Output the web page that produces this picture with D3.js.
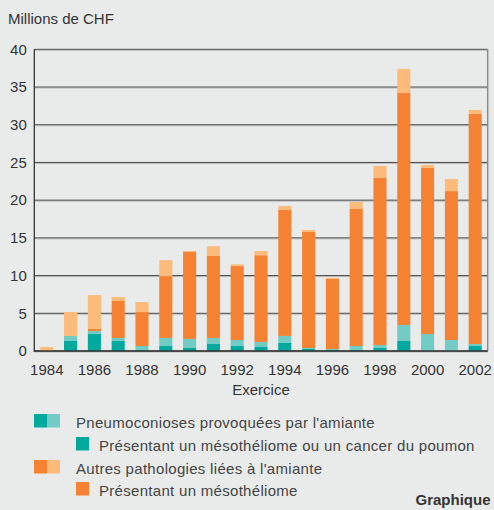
<!DOCTYPE html>
<html><head><meta charset="utf-8">
<script src="https://cdn.jsdelivr.net/npm/d3@7"></script>
<style>
html,body{margin:0;padding:0;background:#e9ebea;}
svg{display:block;font-family:"Liberation Sans",Arial,sans-serif;}
</style></head>
<body><svg id="c" width="494" height="510"></svg>
<script>
const years = [1984,1985,1986,1987,1988,1989,1990,1991,1992,1993,1994,1995,1996,1997,1998,1999,2000,2001,2002];
// Pneumoconioses: with mesothelioma or lung cancer (dark teal)
const pneumoMeso = [0,1.33,2.25,1.33,0.13,0.66,0.4,0.93,0.66,0.53,1.06,0.27,0.13,0.13,0.4,1.33,0,0,0.66];
// Pneumoconioses: other (light teal)
const pneumoOther = [0,0.67,0.4,0.4,0.53,1.07,1.2,0.8,0.8,0.67,0.94,0.13,0.14,0.53,0.4,2.12,2.25,1.46,0.27];
// Autres pathologies: with mesothelioma (dark orange)
const autresMeso = [0,0,0.27,4.9,4.5,8.2,11.53,10.87,9.8,11.5,16.7,15.38,9.28,18.17,22.15,30.75,22.02,19.74,30.5];
// Autres pathologies: other (light orange)
const autresOther = [0.53,3.17,4.5,0.53,1.33,2.12,0.13,1.3,0.23,0.56,0.53,0.27,0.13,0.93,1.59,3.2,0.4,1.6,0.53];
const yTicks = [0,5,10,15,20,25,30,35,40];
const xTickYears = [1984,1986,1988,1990,1992,1994,1996,1998,2000,2002];
const seriesKeys = ["pneumoMeso","pneumoOther","autresMeso","autresOther"];
const colors = {pneumoMeso:"#00a99d", pneumoOther:"#72cbc4", autresMeso:"#f58233", autresOther:"#fdbb7b"};

const svg = d3.select("#c");
const pLeft = 34.3, pRight = 487.7, pTop = 49.3, pBottom = 351;
const x = d3.scaleBand().domain(years).range([pLeft, pRight]).paddingInner(0.45).paddingOuter(0.25);
const y = d3.scaleLinear().domain([0,40]).range([pBottom, pTop]);

const rows = years.map((yr,i)=>({year:yr, pneumoMeso:pneumoMeso[i], pneumoOther:pneumoOther[i], autresMeso:autresMeso[i], autresOther:autresOther[i]}));
const stacked = d3.stack().keys(seriesKeys)(rows);

// gridlines
const g = svg.append("g");
yTicks.forEach(t=>{
  g.append("line").attr("x1",pLeft).attr("x2",pRight).attr("y1",y(t)+1).attr("y2",y(t)+1).attr("stroke","#b8b9b8").attr("stroke-width",1);
  g.append("line").attr("x1",pLeft).attr("x2",pRight).attr("y1",y(t)).attr("y2",y(t)).attr("stroke","#4a4a4a").attr("stroke-width",1);
});
g.append("line").attr("x1",pRight).attr("x2",pRight).attr("y1",pTop).attr("y2",pBottom).attr("stroke","#8a8a8a").attr("stroke-width",1.5);

// bars
svg.append("g").selectAll("g").data(stacked).join("g")
  .attr("fill",d=>colors[d.key])
  .selectAll("rect").data(d=>d).join("rect")
  .attr("x",d=>x(d.data.year)).attr("width",x.bandwidth())
  .attr("y",d=>y(d[1])).attr("height",d=>Math.max(0,y(d[0])-y(d[1])));

// axes lines
svg.append("line").attr("x1",pLeft).attr("x2",pLeft).attr("y1",pTop).attr("y2",pBottom+1).attr("stroke","#333").attr("stroke-width",1.3);
svg.append("line").attr("x1",pLeft).attr("x2",pRight).attr("y1",pBottom).attr("y2",pBottom).attr("stroke","#333").attr("stroke-width",1.3);

// y axis labels
const yAxis = d3.axisLeft(y).tickValues(yTicks).tickSize(0).tickPadding(7.5);
const ya = svg.append("g").attr("transform",`translate(${pLeft},0)`).call(yAxis);
ya.select(".domain").remove();
ya.selectAll("text").attr("font-size",15).attr("fill","#333").attr("font-family","Liberation Sans, Arial, sans-serif");

// x axis labels
const xAxis = d3.axisBottom(x).tickValues(xTickYears).tickSize(0).tickPadding(13);
const xa = svg.append("g").attr("transform",`translate(0,${pBottom})`).call(xAxis);
xa.select(".domain").remove();
xa.selectAll("text").attr("font-size",15).attr("fill","#333").attr("font-family","Liberation Sans, Arial, sans-serif");

svg.append("text").attr("x",8).attr("y",24).attr("font-size",15).attr("fill","#333").text("Millions de CHF");
svg.append("text").attr("x",(pLeft+pRight)/2).attr("y",395).attr("text-anchor","middle").attr("font-size",15).attr("fill","#333").text("Exercice");

// legend
const leg = svg.append("g").attr("font-size",15).attr("fill","#444").attr("letter-spacing","0.3px");
const legendItems = [
  {sw:["pneumoMeso","pneumoOther"], x:34, y:414, tx:76, text:"Pneumoconioses provoquées par l'amiante"},
  {sw:["pneumoMeso"], x:76, y:437, tx:99, text:"Présentant un mésothéliome ou un cancer du poumon"},
  {sw:["autresMeso","autresOther"], x:34, y:460, tx:76, text:"Autres pathologies liées à l'amiante"},
  {sw:["autresMeso"], x:76, y:482, tx:99, text:"Présentant un mésothéliome"}
];
legendItems.forEach(it=>{
  it.sw.forEach((k,j)=>{
    leg.append("rect").attr("x",it.x+j*13).attr("y",it.y).attr("width",13).attr("height",13.5).attr("fill",colors[k]);
  });
  leg.append("text").attr("x",it.tx).attr("y",it.y+13.5).attr("fill","#444").text(it.text);
});
svg.append("text").attr("x",490.5).attr("y",505).attr("text-anchor","end").attr("font-size",15).attr("font-weight","bold").attr("fill","#333").text("Graphique");
</script></body></html>
